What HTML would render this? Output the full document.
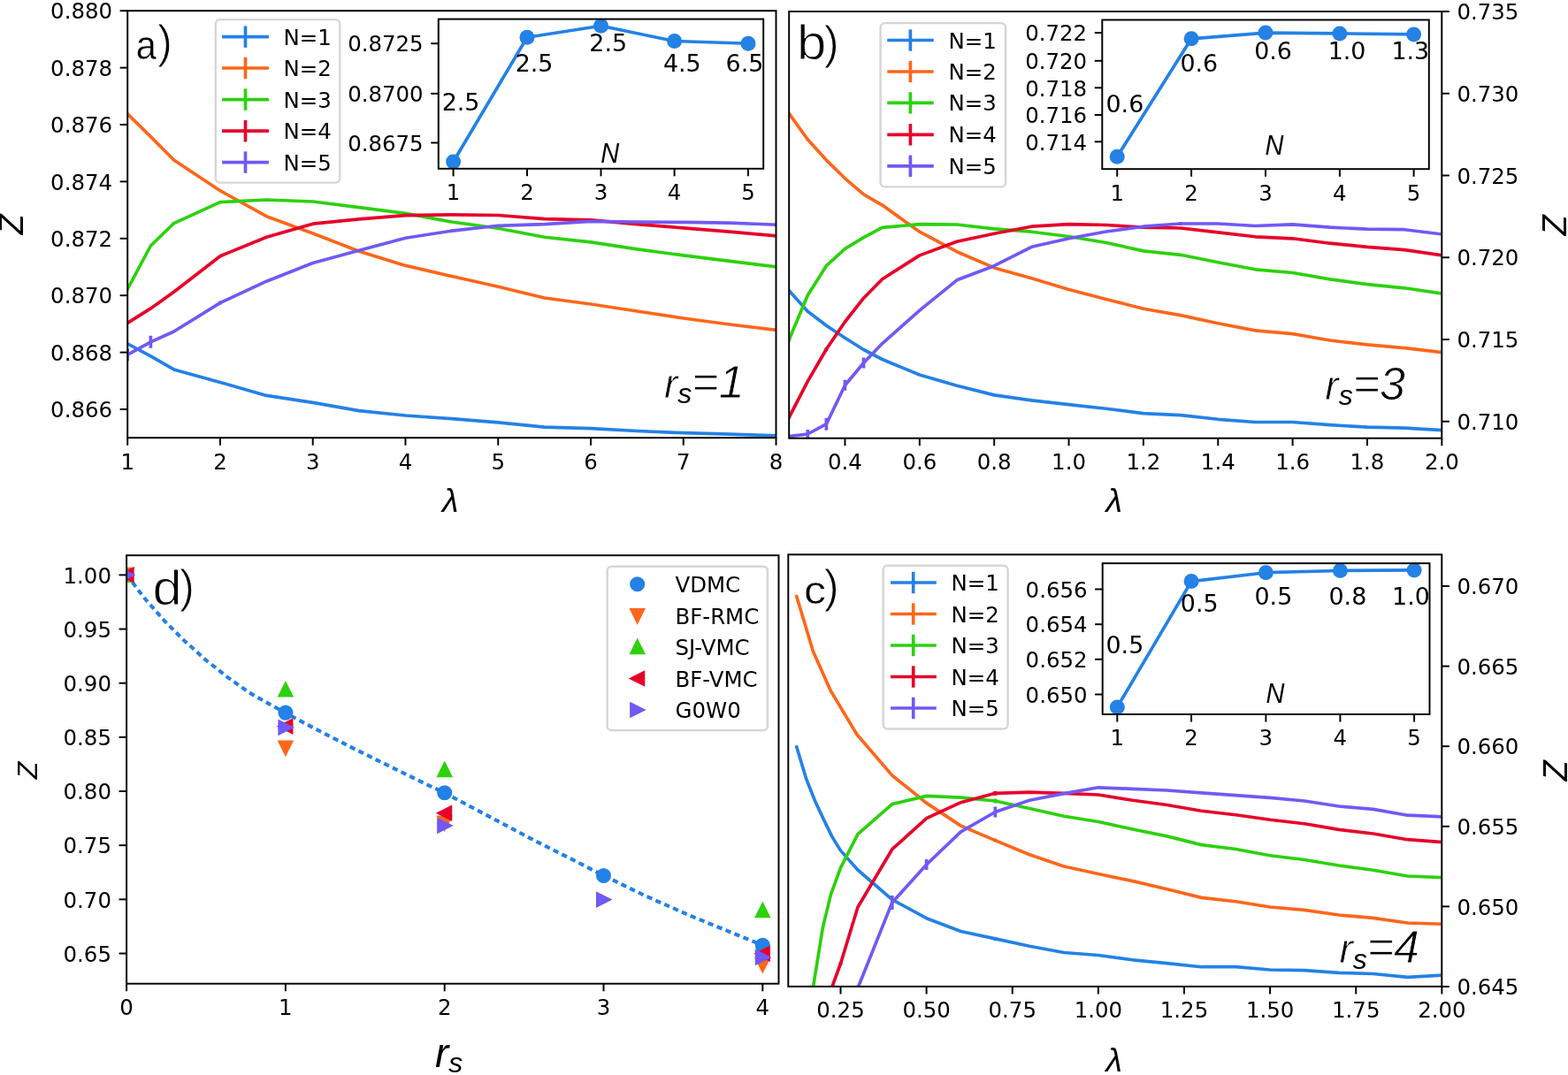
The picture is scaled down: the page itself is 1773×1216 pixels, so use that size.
<!DOCTYPE html>
<html><head><meta charset="utf-8"><title>Figure</title><style>html,body{margin:0;padding:0;background:#fff;overflow:hidden;}svg{display:block;}</style></head><body>
<svg width="1773" height="1216" viewBox="0 0 1773 1216">
<rect width="1773" height="1216" fill="#fff"/>
<clipPath id="ca"><rect x="144.2" y="12.2" width="733.3" height="483"/></clipPath>
<g clip-path="url(#ca)">
<polyline points="144.2,388.9 170.39,402.9 196.58,417.9 248.96,432.4 301.34,447.4 353.72,455.4 406.1,464.6 458.48,470 510.86,473.6 563.24,477.9 615.62,483.2 668,484.7 720.38,487.5 772.76,489.7 825.14,491.2 877.52,492.9" fill="none" stroke="#2481e6" stroke-width="3.67" stroke-linejoin="round" stroke-linecap="square" />
<polyline points="144.2,128.9 170.39,154.6 196.58,181 248.96,215.7 301.34,244.7 353.72,264 406.1,284.3 458.48,300.4 510.86,312.5 563.24,324.3 615.62,337 668,344 720.38,352 772.76,360 825.14,367 877.52,373.3" fill="none" stroke="#ff661a" stroke-width="3.67" stroke-linejoin="round" stroke-linecap="square" />
<polyline points="144.2,327 170.39,278 196.58,252.6 248.96,228.6 301.34,226 353.72,228 406.1,234.6 458.48,241.4 510.86,251 563.24,258.3 615.62,268.2 668,273.9 720.38,281.9 772.76,288.9 825.14,295.4 877.52,301.8" fill="none" stroke="#2dd10d" stroke-width="3.67" stroke-linejoin="round" stroke-linecap="square" />
<polyline points="144.2,365.4 170.39,348.9 196.58,330.2 248.96,289.7 301.34,268.2 353.72,253.2 406.1,247.9 458.48,243.6 510.86,242.9 563.24,243.5 615.62,247.6 668,248.9 720.38,253.6 772.76,257.9 825.14,262.2 877.52,266.9" fill="none" stroke="#e6002a" stroke-width="3.67" stroke-linejoin="round" stroke-linecap="square" />
<polyline points="144.2,401.2 170.39,386.8 196.58,375 248.96,342.6 301.34,318.2 353.72,297.5 406.1,283.2 458.48,269.3 510.86,261.1 563.24,255.3 615.62,253.6 668,250.4 720.38,251 772.76,251.4 825.14,252.1 877.52,254.2" fill="none" stroke="#7059f5" stroke-width="3.67" stroke-linejoin="round" stroke-linecap="square" />
<line x1="144.2" y1="394.2" x2="144.2" y2="408.2" stroke="#7059f5" stroke-width="3.67" stroke-linecap="butt"/>
<line x1="170.39" y1="379.8" x2="170.39" y2="393.8" stroke="#7059f5" stroke-width="3.67" stroke-linecap="butt"/>
<line x1="248.96" y1="340.6" x2="248.96" y2="344.6" stroke="#7059f5" stroke-width="3.67" stroke-linecap="butt"/>
</g>
<rect x="144.2" y="12.2" width="733.3" height="483" fill="none" stroke="#000" stroke-width="1.96"/>
<line x1="144.2" y1="495.2" x2="144.2" y2="503.76" stroke="#000" stroke-width="1.96" stroke-linecap="butt"/>
<text x="144.2" y="530.6" text-anchor="middle" font-size="24.44" font-family="'DejaVu Sans', 'Liberation Sans', sans-serif" >1</text>
<line x1="248.96" y1="495.2" x2="248.96" y2="503.76" stroke="#000" stroke-width="1.96" stroke-linecap="butt"/>
<text x="248.96" y="530.6" text-anchor="middle" font-size="24.44" font-family="'DejaVu Sans', 'Liberation Sans', sans-serif" >2</text>
<line x1="353.72" y1="495.2" x2="353.72" y2="503.76" stroke="#000" stroke-width="1.96" stroke-linecap="butt"/>
<text x="353.72" y="530.6" text-anchor="middle" font-size="24.44" font-family="'DejaVu Sans', 'Liberation Sans', sans-serif" >3</text>
<line x1="458.48" y1="495.2" x2="458.48" y2="503.76" stroke="#000" stroke-width="1.96" stroke-linecap="butt"/>
<text x="458.48" y="530.6" text-anchor="middle" font-size="24.44" font-family="'DejaVu Sans', 'Liberation Sans', sans-serif" >4</text>
<line x1="563.24" y1="495.2" x2="563.24" y2="503.76" stroke="#000" stroke-width="1.96" stroke-linecap="butt"/>
<text x="563.24" y="530.6" text-anchor="middle" font-size="24.44" font-family="'DejaVu Sans', 'Liberation Sans', sans-serif" >5</text>
<line x1="668" y1="495.2" x2="668" y2="503.76" stroke="#000" stroke-width="1.96" stroke-linecap="butt"/>
<text x="668" y="530.6" text-anchor="middle" font-size="24.44" font-family="'DejaVu Sans', 'Liberation Sans', sans-serif" >6</text>
<line x1="772.76" y1="495.2" x2="772.76" y2="503.76" stroke="#000" stroke-width="1.96" stroke-linecap="butt"/>
<text x="772.76" y="530.6" text-anchor="middle" font-size="24.44" font-family="'DejaVu Sans', 'Liberation Sans', sans-serif" >7</text>
<line x1="877.52" y1="495.2" x2="877.52" y2="503.76" stroke="#000" stroke-width="1.96" stroke-linecap="butt"/>
<text x="877.52" y="530.6" text-anchor="middle" font-size="24.44" font-family="'DejaVu Sans', 'Liberation Sans', sans-serif" >8</text>
<line x1="135.64" y1="463" x2="144.2" y2="463" stroke="#000" stroke-width="1.96" stroke-linecap="butt"/>
<text x="127.08" y="472.2" text-anchor="end" font-size="24.44" font-family="'DejaVu Sans', 'Liberation Sans', sans-serif" >0.866</text>
<line x1="135.64" y1="398.6" x2="144.2" y2="398.6" stroke="#000" stroke-width="1.96" stroke-linecap="butt"/>
<text x="127.08" y="407.8" text-anchor="end" font-size="24.44" font-family="'DejaVu Sans', 'Liberation Sans', sans-serif" >0.868</text>
<line x1="135.64" y1="334.2" x2="144.2" y2="334.2" stroke="#000" stroke-width="1.96" stroke-linecap="butt"/>
<text x="127.08" y="343.4" text-anchor="end" font-size="24.44" font-family="'DejaVu Sans', 'Liberation Sans', sans-serif" >0.870</text>
<line x1="135.64" y1="269.8" x2="144.2" y2="269.8" stroke="#000" stroke-width="1.96" stroke-linecap="butt"/>
<text x="127.08" y="279" text-anchor="end" font-size="24.44" font-family="'DejaVu Sans', 'Liberation Sans', sans-serif" >0.872</text>
<line x1="135.64" y1="205.4" x2="144.2" y2="205.4" stroke="#000" stroke-width="1.96" stroke-linecap="butt"/>
<text x="127.08" y="214.6" text-anchor="end" font-size="24.44" font-family="'DejaVu Sans', 'Liberation Sans', sans-serif" >0.874</text>
<line x1="135.64" y1="141" x2="144.2" y2="141" stroke="#000" stroke-width="1.96" stroke-linecap="butt"/>
<text x="127.08" y="150.2" text-anchor="end" font-size="24.44" font-family="'DejaVu Sans', 'Liberation Sans', sans-serif" >0.876</text>
<line x1="135.64" y1="76.6" x2="144.2" y2="76.6" stroke="#000" stroke-width="1.96" stroke-linecap="butt"/>
<text x="127.08" y="85.8" text-anchor="end" font-size="24.44" font-family="'DejaVu Sans', 'Liberation Sans', sans-serif" >0.878</text>
<line x1="135.64" y1="12.2" x2="144.2" y2="12.2" stroke="#000" stroke-width="1.96" stroke-linecap="butt"/>
<text x="127.08" y="21.4" text-anchor="end" font-size="24.44" font-family="'DejaVu Sans', 'Liberation Sans', sans-serif" >0.880</text>
<rect x="243.8" y="22.1" width="140.5" height="184.5" rx="4.9" ry="4.9" fill="#fff" fill-opacity="0.8" stroke="#cccccc" stroke-opacity="0.8" stroke-width="2.44"/>
<line x1="252.9" y1="41.6" x2="302.1" y2="41.6" stroke="#2481e6" stroke-width="3.67" stroke-linecap="square"/>
<line x1="277.5" y1="29.4" x2="277.5" y2="53.8" stroke="#2481e6" stroke-width="3.67" stroke-linecap="butt"/>
<text x="320.4" y="50.6" text-anchor="start" font-size="24.44" font-family="'DejaVu Sans', 'Liberation Sans', sans-serif" >N=1</text>
<line x1="252.9" y1="77" x2="302.1" y2="77" stroke="#ff661a" stroke-width="3.67" stroke-linecap="square"/>
<line x1="277.5" y1="64.8" x2="277.5" y2="89.2" stroke="#ff661a" stroke-width="3.67" stroke-linecap="butt"/>
<text x="320.4" y="86" text-anchor="start" font-size="24.44" font-family="'DejaVu Sans', 'Liberation Sans', sans-serif" >N=2</text>
<line x1="252.9" y1="112.6" x2="302.1" y2="112.6" stroke="#2dd10d" stroke-width="3.67" stroke-linecap="square"/>
<line x1="277.5" y1="100.4" x2="277.5" y2="124.8" stroke="#2dd10d" stroke-width="3.67" stroke-linecap="butt"/>
<text x="320.4" y="121.6" text-anchor="start" font-size="24.44" font-family="'DejaVu Sans', 'Liberation Sans', sans-serif" >N=3</text>
<line x1="252.9" y1="148.2" x2="302.1" y2="148.2" stroke="#e6002a" stroke-width="3.67" stroke-linecap="square"/>
<line x1="277.5" y1="136" x2="277.5" y2="160.4" stroke="#e6002a" stroke-width="3.67" stroke-linecap="butt"/>
<text x="320.4" y="157.2" text-anchor="start" font-size="24.44" font-family="'DejaVu Sans', 'Liberation Sans', sans-serif" >N=4</text>
<line x1="252.9" y1="183.6" x2="302.1" y2="183.6" stroke="#7059f5" stroke-width="3.67" stroke-linecap="square"/>
<line x1="277.5" y1="171.4" x2="277.5" y2="195.8" stroke="#7059f5" stroke-width="3.67" stroke-linecap="butt"/>
<text x="320.4" y="192.6" text-anchor="start" font-size="24.44" font-family="'DejaVu Sans', 'Liberation Sans', sans-serif" >N=5</text>
<rect x="495.8" y="21.6" width="367.4" height="169.2" fill="#fff"/>
<polyline points="512.6,182.9 596,42.3 679.5,29.3 762.6,46.5 846,49.2" fill="none" stroke="#2481e6" stroke-width="3.67" stroke-linejoin="round" stroke-linecap="square" />
<circle cx="512.6" cy="182.9" r="8.5" fill="#2481e6"/>
<circle cx="596" cy="42.3" r="8.5" fill="#2481e6"/>
<circle cx="679.5" cy="29.3" r="8.5" fill="#2481e6"/>
<circle cx="762.6" cy="46.5" r="8.5" fill="#2481e6"/>
<circle cx="846" cy="49.2" r="8.5" fill="#2481e6"/>
<rect x="495.8" y="21.6" width="367.4" height="169.2" fill="none" stroke="#000" stroke-width="1.96"/>
<line x1="512.6" y1="190.8" x2="512.6" y2="199.36" stroke="#000" stroke-width="1.96" stroke-linecap="butt"/>
<text x="512.6" y="226.2" text-anchor="middle" font-size="24.44" font-family="'DejaVu Sans', 'Liberation Sans', sans-serif" >1</text>
<line x1="596" y1="190.8" x2="596" y2="199.36" stroke="#000" stroke-width="1.96" stroke-linecap="butt"/>
<text x="596" y="226.2" text-anchor="middle" font-size="24.44" font-family="'DejaVu Sans', 'Liberation Sans', sans-serif" >2</text>
<line x1="679.5" y1="190.8" x2="679.5" y2="199.36" stroke="#000" stroke-width="1.96" stroke-linecap="butt"/>
<text x="679.5" y="226.2" text-anchor="middle" font-size="24.44" font-family="'DejaVu Sans', 'Liberation Sans', sans-serif" >3</text>
<line x1="762.6" y1="190.8" x2="762.6" y2="199.36" stroke="#000" stroke-width="1.96" stroke-linecap="butt"/>
<text x="762.6" y="226.2" text-anchor="middle" font-size="24.44" font-family="'DejaVu Sans', 'Liberation Sans', sans-serif" >4</text>
<line x1="846" y1="190.8" x2="846" y2="199.36" stroke="#000" stroke-width="1.96" stroke-linecap="butt"/>
<text x="846" y="226.2" text-anchor="middle" font-size="24.44" font-family="'DejaVu Sans', 'Liberation Sans', sans-serif" >5</text>
<line x1="487.24" y1="49.2" x2="495.8" y2="49.2" stroke="#000" stroke-width="1.96" stroke-linecap="butt"/>
<text x="478.68" y="58.4" text-anchor="end" font-size="24.44" font-family="'DejaVu Sans', 'Liberation Sans', sans-serif" >0.8725</text>
<line x1="487.24" y1="105.9" x2="495.8" y2="105.9" stroke="#000" stroke-width="1.96" stroke-linecap="butt"/>
<text x="478.68" y="115.1" text-anchor="end" font-size="24.44" font-family="'DejaVu Sans', 'Liberation Sans', sans-serif" >0.8700</text>
<line x1="487.24" y1="161.5" x2="495.8" y2="161.5" stroke="#000" stroke-width="1.96" stroke-linecap="butt"/>
<text x="478.68" y="170.7" text-anchor="end" font-size="24.44" font-family="'DejaVu Sans', 'Liberation Sans', sans-serif" >0.8675</text>
<text x="499.63" y="125.1" text-anchor="start" font-size="26.88" font-family="'DejaVu Sans', 'Liberation Sans', sans-serif" >2.5</text>
<text x="582.63" y="80.6" text-anchor="start" font-size="26.88" font-family="'DejaVu Sans', 'Liberation Sans', sans-serif" >2.5</text>
<text x="666.33" y="58" text-anchor="start" font-size="26.88" font-family="'DejaVu Sans', 'Liberation Sans', sans-serif" >2.5</text>
<text x="749.89" y="80.6" text-anchor="start" font-size="26.88" font-family="'DejaVu Sans', 'Liberation Sans', sans-serif" >4.5</text>
<text x="820.62" y="80.6" text-anchor="start" font-size="26.88" font-family="'DejaVu Sans', 'Liberation Sans', sans-serif" >6.5</text>
<text x="679.12" y="183.8" font-size="32" font-family="'Liberation Sans', 'DejaVu Sans', sans-serif" font-style="italic" transform="matrix(0.9078,0,0,1,62.68,0)">N</text>
<text x="153.4" y="67.3" font-size="47" font-family="'Liberation Sans', 'DejaVu Sans', sans-serif" stroke="#fff" stroke-width="0.4" transform="matrix(0.8823,0,0,1,18.3,0)">a</text>
<text x="178.08" y="65.24" font-size="51" font-family="'Liberation Sans', 'DejaVu Sans', sans-serif" stroke="#fff" stroke-width="1.0">)</text>
<text x="751" y="449.6" font-family="'Liberation Sans', 'DejaVu Sans', sans-serif" font-style="italic" font-size="46" stroke="#fff" stroke-width="0.8">r<tspan font-size="32" dy="6.5" stroke="none">s</tspan><tspan font-size="52" dy="-6.5">=1</tspan></text>
<text x="509.2" y="578.9" text-anchor="middle" font-size="37.5" font-family="'Liberation Sans', 'DejaVu Sans', sans-serif" font-style="italic">λ</text>
<text transform="translate(25.9,254) rotate(-90)" text-anchor="middle" font-family="'Liberation Sans', 'DejaVu Sans', sans-serif" font-style="italic" font-size="38">Z</text>
<clipPath id="cb"><rect x="892.2" y="13" width="738.1" height="482.7"/></clipPath>
<g clip-path="url(#cb)">
<polyline points="892.2,328.6 913.29,352.2 934.38,368.2 955.47,382.2 976.56,395.5 997.65,406.5 1039.83,424 1082.01,436.2 1124.19,446.9 1166.37,452.9 1208.55,457.6 1250.73,462.2 1292.91,467.6 1335.09,469.6 1377.27,474.3 1419.45,477.5 1461.63,477.5 1503.81,480.7 1545.99,483.2 1588.17,484.2 1630.35,486.6" fill="none" stroke="#2481e6" stroke-width="3.67" stroke-linejoin="round" stroke-linecap="square" />
<polyline points="892.2,128.3 913.29,157.8 934.38,181.1 955.47,201.8 976.56,219.8 997.65,232.1 1039.83,262.2 1082.01,284.7 1124.19,302.9 1166.37,314.7 1208.55,327.5 1250.73,338.5 1292.91,349.2 1335.09,356.6 1377.27,365.8 1419.45,373.9 1461.63,377.6 1503.81,385 1545.99,389.9 1588.17,393.6 1630.35,398.6" fill="none" stroke="#ff661a" stroke-width="3.67" stroke-linejoin="round" stroke-linecap="square" />
<polyline points="892.2,384.3 913.29,334 934.38,300.7 955.47,281.4 976.56,268.6 997.65,257.4 1039.83,253.6 1082.01,254 1124.19,258.9 1166.37,262.2 1208.55,267.5 1250.73,274.5 1292.91,283.9 1335.09,288.3 1377.27,296.7 1419.45,304.8 1461.63,308.5 1503.81,315.9 1545.99,321.6 1588.17,325.8 1630.35,332" fill="none" stroke="#2dd10d" stroke-width="3.67" stroke-linejoin="round" stroke-linecap="square" />
<polyline points="892.2,472.2 913.29,431.4 934.38,395 955.47,364 976.56,337.2 997.65,315.7 1039.83,288.9 1082.01,273.3 1124.19,264.3 1166.37,256.2 1208.55,253.6 1250.73,254.5 1292.91,257.2 1335.09,258 1377.27,262.9 1419.45,267.8 1461.63,269.8 1503.81,275.2 1545.99,279.4 1588.17,282.6 1630.35,288.8" fill="none" stroke="#e6002a" stroke-width="3.67" stroke-linejoin="round" stroke-linecap="square" />
<polyline points="892.2,493.6 913.29,491 934.38,479.7 955.47,435.7 976.56,410.5 997.65,388.6 1039.83,351.1 1082.01,316.8 1124.19,300.7 1166.37,279.3 1208.55,269.7 1250.73,262 1292.91,256.2 1335.09,253 1377.27,253 1419.45,255.5 1461.63,253.8 1503.81,257.2 1545.99,259.2 1588.17,259.7 1630.35,264.9" fill="none" stroke="#7059f5" stroke-width="3.67" stroke-linejoin="round" stroke-linecap="square" />
<line x1="913.29" y1="486" x2="913.29" y2="496" stroke="#7059f5" stroke-width="3.67" stroke-linecap="butt"/>
<line x1="934.38" y1="472.7" x2="934.38" y2="486.7" stroke="#7059f5" stroke-width="3.67" stroke-linecap="butt"/>
<line x1="955.47" y1="429.7" x2="955.47" y2="441.7" stroke="#7059f5" stroke-width="3.67" stroke-linecap="butt"/>
<line x1="976.56" y1="404.5" x2="976.56" y2="416.5" stroke="#7059f5" stroke-width="3.67" stroke-linecap="butt"/>
<line x1="1335.09" y1="251" x2="1335.09" y2="255" stroke="#7059f5" stroke-width="3.67" stroke-linecap="butt"/>
<line x1="934.38" y1="393" x2="934.38" y2="397" stroke="#e6002a" stroke-width="3.67" stroke-linecap="butt"/>
</g>
<rect x="892.2" y="13" width="738.1" height="482.7" fill="none" stroke="#000" stroke-width="1.96"/>
<line x1="955.47" y1="495.7" x2="955.47" y2="504.26" stroke="#000" stroke-width="1.96" stroke-linecap="butt"/>
<text x="955.47" y="531.1" text-anchor="middle" font-size="24.44" font-family="'DejaVu Sans', 'Liberation Sans', sans-serif" >0.4</text>
<line x1="1039.83" y1="495.7" x2="1039.83" y2="504.26" stroke="#000" stroke-width="1.96" stroke-linecap="butt"/>
<text x="1039.83" y="531.1" text-anchor="middle" font-size="24.44" font-family="'DejaVu Sans', 'Liberation Sans', sans-serif" >0.6</text>
<line x1="1124.19" y1="495.7" x2="1124.19" y2="504.26" stroke="#000" stroke-width="1.96" stroke-linecap="butt"/>
<text x="1124.19" y="531.1" text-anchor="middle" font-size="24.44" font-family="'DejaVu Sans', 'Liberation Sans', sans-serif" >0.8</text>
<line x1="1208.55" y1="495.7" x2="1208.55" y2="504.26" stroke="#000" stroke-width="1.96" stroke-linecap="butt"/>
<text x="1208.55" y="531.1" text-anchor="middle" font-size="24.44" font-family="'DejaVu Sans', 'Liberation Sans', sans-serif" >1.0</text>
<line x1="1292.91" y1="495.7" x2="1292.91" y2="504.26" stroke="#000" stroke-width="1.96" stroke-linecap="butt"/>
<text x="1292.91" y="531.1" text-anchor="middle" font-size="24.44" font-family="'DejaVu Sans', 'Liberation Sans', sans-serif" >1.2</text>
<line x1="1377.27" y1="495.7" x2="1377.27" y2="504.26" stroke="#000" stroke-width="1.96" stroke-linecap="butt"/>
<text x="1377.27" y="531.1" text-anchor="middle" font-size="24.44" font-family="'DejaVu Sans', 'Liberation Sans', sans-serif" >1.4</text>
<line x1="1461.63" y1="495.7" x2="1461.63" y2="504.26" stroke="#000" stroke-width="1.96" stroke-linecap="butt"/>
<text x="1461.63" y="531.1" text-anchor="middle" font-size="24.44" font-family="'DejaVu Sans', 'Liberation Sans', sans-serif" >1.6</text>
<line x1="1545.99" y1="495.7" x2="1545.99" y2="504.26" stroke="#000" stroke-width="1.96" stroke-linecap="butt"/>
<text x="1545.99" y="531.1" text-anchor="middle" font-size="24.44" font-family="'DejaVu Sans', 'Liberation Sans', sans-serif" >1.8</text>
<line x1="1630.35" y1="495.7" x2="1630.35" y2="504.26" stroke="#000" stroke-width="1.96" stroke-linecap="butt"/>
<text x="1630.35" y="531.1" text-anchor="middle" font-size="24.44" font-family="'DejaVu Sans', 'Liberation Sans', sans-serif" >2.0</text>
<line x1="1630.3" y1="476.75" x2="1638.86" y2="476.75" stroke="#000" stroke-width="1.96" stroke-linecap="butt"/>
<text x="1647.42" y="485.95" text-anchor="start" font-size="24.44" font-family="'DejaVu Sans', 'Liberation Sans', sans-serif" >0.710</text>
<line x1="1630.3" y1="384" x2="1638.86" y2="384" stroke="#000" stroke-width="1.96" stroke-linecap="butt"/>
<text x="1647.42" y="393.2" text-anchor="start" font-size="24.44" font-family="'DejaVu Sans', 'Liberation Sans', sans-serif" >0.715</text>
<line x1="1630.3" y1="291.25" x2="1638.86" y2="291.25" stroke="#000" stroke-width="1.96" stroke-linecap="butt"/>
<text x="1647.42" y="300.45" text-anchor="start" font-size="24.44" font-family="'DejaVu Sans', 'Liberation Sans', sans-serif" >0.720</text>
<line x1="1630.3" y1="198.5" x2="1638.86" y2="198.5" stroke="#000" stroke-width="1.96" stroke-linecap="butt"/>
<text x="1647.42" y="207.7" text-anchor="start" font-size="24.44" font-family="'DejaVu Sans', 'Liberation Sans', sans-serif" >0.725</text>
<line x1="1630.3" y1="105.75" x2="1638.86" y2="105.75" stroke="#000" stroke-width="1.96" stroke-linecap="butt"/>
<text x="1647.42" y="114.95" text-anchor="start" font-size="24.44" font-family="'DejaVu Sans', 'Liberation Sans', sans-serif" >0.730</text>
<line x1="1630.3" y1="13" x2="1638.86" y2="13" stroke="#000" stroke-width="1.96" stroke-linecap="butt"/>
<text x="1647.42" y="22.2" text-anchor="start" font-size="24.44" font-family="'DejaVu Sans', 'Liberation Sans', sans-serif" >0.735</text>
<rect x="995.6" y="26.1" width="141.5" height="185.3" rx="4.9" ry="4.9" fill="#fff" fill-opacity="0.8" stroke="#cccccc" stroke-opacity="0.8" stroke-width="2.44"/>
<line x1="1005.1" y1="45.5" x2="1053.9" y2="45.5" stroke="#2481e6" stroke-width="3.67" stroke-linecap="square"/>
<line x1="1029.4" y1="33.3" x2="1029.4" y2="57.7" stroke="#2481e6" stroke-width="3.67" stroke-linecap="butt"/>
<text x="1072.5" y="54.5" text-anchor="start" font-size="24.44" font-family="'DejaVu Sans', 'Liberation Sans', sans-serif" >N=1</text>
<line x1="1005.1" y1="81" x2="1053.9" y2="81" stroke="#ff661a" stroke-width="3.67" stroke-linecap="square"/>
<line x1="1029.4" y1="68.8" x2="1029.4" y2="93.2" stroke="#ff661a" stroke-width="3.67" stroke-linecap="butt"/>
<text x="1072.5" y="90" text-anchor="start" font-size="24.44" font-family="'DejaVu Sans', 'Liberation Sans', sans-serif" >N=2</text>
<line x1="1005.1" y1="116.4" x2="1053.9" y2="116.4" stroke="#2dd10d" stroke-width="3.67" stroke-linecap="square"/>
<line x1="1029.4" y1="104.2" x2="1029.4" y2="128.6" stroke="#2dd10d" stroke-width="3.67" stroke-linecap="butt"/>
<text x="1072.5" y="125.4" text-anchor="start" font-size="24.44" font-family="'DejaVu Sans', 'Liberation Sans', sans-serif" >N=3</text>
<line x1="1005.1" y1="152.3" x2="1053.9" y2="152.3" stroke="#e6002a" stroke-width="3.67" stroke-linecap="square"/>
<line x1="1029.4" y1="140.1" x2="1029.4" y2="164.5" stroke="#e6002a" stroke-width="3.67" stroke-linecap="butt"/>
<text x="1072.5" y="161.3" text-anchor="start" font-size="24.44" font-family="'DejaVu Sans', 'Liberation Sans', sans-serif" >N=4</text>
<line x1="1005.1" y1="187.8" x2="1053.9" y2="187.8" stroke="#7059f5" stroke-width="3.67" stroke-linecap="square"/>
<line x1="1029.4" y1="175.6" x2="1029.4" y2="200" stroke="#7059f5" stroke-width="3.67" stroke-linecap="butt"/>
<text x="1072.5" y="196.8" text-anchor="start" font-size="24.44" font-family="'DejaVu Sans', 'Liberation Sans', sans-serif" >N=5</text>
<rect x="1246.3" y="22.5" width="369.5" height="168.7" fill="#fff"/>
<polyline points="1263.2,177.3 1347.1,43.8 1431,37.1 1514.9,37.9 1598.6,38.9" fill="none" stroke="#2481e6" stroke-width="3.67" stroke-linejoin="round" stroke-linecap="square" />
<circle cx="1263.2" cy="177.3" r="8.5" fill="#2481e6"/>
<circle cx="1347.1" cy="43.8" r="8.5" fill="#2481e6"/>
<circle cx="1431" cy="37.1" r="8.5" fill="#2481e6"/>
<circle cx="1514.9" cy="37.9" r="8.5" fill="#2481e6"/>
<circle cx="1598.6" cy="38.9" r="8.5" fill="#2481e6"/>
<rect x="1246.3" y="22.5" width="369.5" height="168.7" fill="none" stroke="#000" stroke-width="1.96"/>
<line x1="1263.2" y1="191.2" x2="1263.2" y2="199.76" stroke="#000" stroke-width="1.96" stroke-linecap="butt"/>
<text x="1263.2" y="226.6" text-anchor="middle" font-size="24.44" font-family="'DejaVu Sans', 'Liberation Sans', sans-serif" >1</text>
<line x1="1347.1" y1="191.2" x2="1347.1" y2="199.76" stroke="#000" stroke-width="1.96" stroke-linecap="butt"/>
<text x="1347.1" y="226.6" text-anchor="middle" font-size="24.44" font-family="'DejaVu Sans', 'Liberation Sans', sans-serif" >2</text>
<line x1="1431" y1="191.2" x2="1431" y2="199.76" stroke="#000" stroke-width="1.96" stroke-linecap="butt"/>
<text x="1431" y="226.6" text-anchor="middle" font-size="24.44" font-family="'DejaVu Sans', 'Liberation Sans', sans-serif" >3</text>
<line x1="1514.9" y1="191.2" x2="1514.9" y2="199.76" stroke="#000" stroke-width="1.96" stroke-linecap="butt"/>
<text x="1514.9" y="226.6" text-anchor="middle" font-size="24.44" font-family="'DejaVu Sans', 'Liberation Sans', sans-serif" >4</text>
<line x1="1598.6" y1="191.2" x2="1598.6" y2="199.76" stroke="#000" stroke-width="1.96" stroke-linecap="butt"/>
<text x="1598.6" y="226.6" text-anchor="middle" font-size="24.44" font-family="'DejaVu Sans', 'Liberation Sans', sans-serif" >5</text>
<line x1="1237.74" y1="37.1" x2="1246.3" y2="37.1" stroke="#000" stroke-width="1.96" stroke-linecap="butt"/>
<text x="1229.18" y="46.3" text-anchor="end" font-size="24.44" font-family="'DejaVu Sans', 'Liberation Sans', sans-serif" >0.722</text>
<line x1="1237.74" y1="68.8" x2="1246.3" y2="68.8" stroke="#000" stroke-width="1.96" stroke-linecap="butt"/>
<text x="1229.18" y="78" text-anchor="end" font-size="24.44" font-family="'DejaVu Sans', 'Liberation Sans', sans-serif" >0.720</text>
<line x1="1237.74" y1="99.3" x2="1246.3" y2="99.3" stroke="#000" stroke-width="1.96" stroke-linecap="butt"/>
<text x="1229.18" y="108.5" text-anchor="end" font-size="24.44" font-family="'DejaVu Sans', 'Liberation Sans', sans-serif" >0.718</text>
<line x1="1237.74" y1="130" x2="1246.3" y2="130" stroke="#000" stroke-width="1.96" stroke-linecap="butt"/>
<text x="1229.18" y="139.2" text-anchor="end" font-size="24.44" font-family="'DejaVu Sans', 'Liberation Sans', sans-serif" >0.716</text>
<line x1="1237.74" y1="160.3" x2="1246.3" y2="160.3" stroke="#000" stroke-width="1.96" stroke-linecap="butt"/>
<text x="1229.18" y="169.5" text-anchor="end" font-size="24.44" font-family="'DejaVu Sans', 'Liberation Sans', sans-serif" >0.714</text>
<text x="1250.53" y="127.4" text-anchor="start" font-size="26.88" font-family="'DejaVu Sans', 'Liberation Sans', sans-serif" >0.6</text>
<text x="1334.43" y="81.3" text-anchor="start" font-size="26.88" font-family="'DejaVu Sans', 'Liberation Sans', sans-serif" >0.6</text>
<text x="1418.13" y="66.5" text-anchor="start" font-size="26.88" font-family="'DejaVu Sans', 'Liberation Sans', sans-serif" >0.6</text>
<text x="1501.65" y="66.5" text-anchor="start" font-size="26.88" font-family="'DejaVu Sans', 'Liberation Sans', sans-serif" >1.0</text>
<text x="1573.45" y="66.5" text-anchor="start" font-size="26.88" font-family="'DejaVu Sans', 'Liberation Sans', sans-serif" >1.3</text>
<text x="1430.52" y="175.1" font-size="32" font-family="'Liberation Sans', 'DejaVu Sans', sans-serif" font-style="italic" transform="matrix(0.9078,0,0,1,131.94,0)">N</text>
<text x="901.26" y="67.1" font-size="55" font-family="'Liberation Sans', 'DejaVu Sans', sans-serif" stroke="#fff" stroke-width="1.0" transform="matrix(1.0916,0,0,1,-82.9,0)">b</text>
<text x="931.68" y="65.84" font-size="51" font-family="'Liberation Sans', 'DejaVu Sans', sans-serif" stroke="#fff" stroke-width="1.0">)</text>
<text x="1498.3" y="451.6" font-family="'Liberation Sans', 'DejaVu Sans', sans-serif" font-style="italic" font-size="46" stroke="#fff" stroke-width="0.8">r<tspan font-size="32" dy="6.5" stroke="none">s</tspan><tspan font-size="52" dy="-6.5">=3</tspan></text>
<text x="1259.8" y="578.9" text-anchor="middle" font-size="37.5" font-family="'Liberation Sans', 'DejaVu Sans', sans-serif" font-style="italic">λ</text>
<text transform="translate(1771.2,254.8) rotate(-90)" text-anchor="middle" font-family="'Liberation Sans', 'DejaVu Sans', sans-serif" font-style="italic" font-size="38">Z</text>
<clipPath id="cd"><rect x="143.1" y="628.2" width="737.4" height="484.5"/></clipPath>
<g clip-path="url(#cd)">
<polyline points="143.1,650.4 148.9,657.8 163.7,677 185.9,702.2 208.1,724.4 231.8,745.8 257,765.8 282.1,783.6 302.8,795.4 323,806.5 340.3,815.9 368.5,830.6 397.3,845.3 425.5,859.4 454.2,873.5 483,887.6 502.8,896.9 567.7,931.3 606,951.6 645.5,971.4 682.6,990.5 730.8,1013.8 779.3,1035.3 828.9,1055.6 862.2,1069.1" fill="none" stroke="#2481e6" stroke-width="4.1" stroke-dasharray="6.3,4.45" stroke-linecap="butt" stroke-linejoin="round"/>
<circle cx="143.1" cy="650.4" r="7.33" fill="#2481e6" stroke="#2481e6" stroke-width="2.44"/>
<circle cx="322.9" cy="806.11" r="7.33" fill="#2481e6" stroke="#2481e6" stroke-width="2.44"/>
<circle cx="502.7" cy="896.75" r="7.33" fill="#2481e6" stroke="#2481e6" stroke-width="2.44"/>
<circle cx="682.5" cy="990.45" r="7.33" fill="#2481e6" stroke="#2481e6" stroke-width="2.44"/>
<circle cx="862.3" cy="1069.35" r="7.33" fill="#2481e6" stroke="#2481e6" stroke-width="2.44"/>
<polygon points="143.1,657.73 135.77,643.07 150.43,643.07" fill="#ff661a" stroke="#ff661a" stroke-width="2.44" stroke-linejoin="miter"/>
<polygon points="322.9,853.44 315.57,838.78 330.23,838.78" fill="#ff661a" stroke="#ff661a" stroke-width="2.44" stroke-linejoin="miter"/>
<polygon points="502.7,938.33 495.37,923.67 510.03,923.67" fill="#ff661a" stroke="#ff661a" stroke-width="2.44" stroke-linejoin="miter"/>
<polygon points="862.3,1098.82 854.97,1084.16 869.63,1084.16" fill="#ff661a" stroke="#ff661a" stroke-width="2.44" stroke-linejoin="miter"/>
<polygon points="143.1,643.07 135.77,657.73 150.43,657.73" fill="#2dd10d" stroke="#2dd10d" stroke-width="2.44" stroke-linejoin="miter"/>
<polygon points="322.9,772.73 315.57,787.39 330.23,787.39" fill="#2dd10d" stroke="#2dd10d" stroke-width="2.44" stroke-linejoin="miter"/>
<polygon points="502.7,863.25 495.37,877.91 510.03,877.91" fill="#2dd10d" stroke="#2dd10d" stroke-width="2.44" stroke-linejoin="miter"/>
<polygon points="862.3,1022.26 854.97,1036.92 869.63,1036.92" fill="#2dd10d" stroke="#2dd10d" stroke-width="2.44" stroke-linejoin="miter"/>
<polygon points="135.77,650.4 150.43,643.07 150.43,657.73" fill="#e6002a" stroke="#e6002a" stroke-width="2.44" stroke-linejoin="miter"/>
<polygon points="315.57,821.65 330.23,814.32 330.23,828.98" fill="#e6002a" stroke="#e6002a" stroke-width="2.44" stroke-linejoin="miter"/>
<polygon points="495.37,919.75 510.03,912.42 510.03,927.08" fill="#e6002a" stroke="#e6002a" stroke-width="2.44" stroke-linejoin="miter"/>
<polygon points="854.97,1078.76 869.63,1071.43 869.63,1086.09" fill="#e6002a" stroke="#e6002a" stroke-width="2.44" stroke-linejoin="miter"/>
<polygon points="150.43,650.4 135.77,643.07 135.77,657.73" fill="#7059f5" stroke="#7059f5" stroke-width="2.44" stroke-linejoin="miter"/>
<polygon points="330.23,822.87 315.57,815.54 315.57,830.2" fill="#7059f5" stroke="#7059f5" stroke-width="2.44" stroke-linejoin="miter"/>
<polygon points="510.03,933.94 495.37,926.61 495.37,941.27" fill="#7059f5" stroke="#7059f5" stroke-width="2.44" stroke-linejoin="miter"/>
<polygon points="689.83,1017.6 675.17,1010.27 675.17,1024.93" fill="#7059f5" stroke="#7059f5" stroke-width="2.44" stroke-linejoin="miter"/>
<polygon points="869.63,1082.92 854.97,1075.59 854.97,1090.25" fill="#7059f5" stroke="#7059f5" stroke-width="2.44" stroke-linejoin="miter"/>
</g>
<rect x="143.1" y="628.2" width="737.4" height="484.5" fill="none" stroke="#000" stroke-width="1.96"/>
<line x1="143.1" y1="1112.7" x2="143.1" y2="1121.26" stroke="#000" stroke-width="1.96" stroke-linecap="butt"/>
<text x="143.1" y="1148.1" text-anchor="middle" font-size="24.44" font-family="'DejaVu Sans', 'Liberation Sans', sans-serif" >0</text>
<line x1="322.9" y1="1112.7" x2="322.9" y2="1121.26" stroke="#000" stroke-width="1.96" stroke-linecap="butt"/>
<text x="322.9" y="1148.1" text-anchor="middle" font-size="24.44" font-family="'DejaVu Sans', 'Liberation Sans', sans-serif" >1</text>
<line x1="502.7" y1="1112.7" x2="502.7" y2="1121.26" stroke="#000" stroke-width="1.96" stroke-linecap="butt"/>
<text x="502.7" y="1148.1" text-anchor="middle" font-size="24.44" font-family="'DejaVu Sans', 'Liberation Sans', sans-serif" >2</text>
<line x1="682.5" y1="1112.7" x2="682.5" y2="1121.26" stroke="#000" stroke-width="1.96" stroke-linecap="butt"/>
<text x="682.5" y="1148.1" text-anchor="middle" font-size="24.44" font-family="'DejaVu Sans', 'Liberation Sans', sans-serif" >3</text>
<line x1="862.3" y1="1112.7" x2="862.3" y2="1121.26" stroke="#000" stroke-width="1.96" stroke-linecap="butt"/>
<text x="862.3" y="1148.1" text-anchor="middle" font-size="24.44" font-family="'DejaVu Sans', 'Liberation Sans', sans-serif" >4</text>
<line x1="134.54" y1="1078.52" x2="143.1" y2="1078.52" stroke="#000" stroke-width="1.96" stroke-linecap="butt"/>
<text x="125.98" y="1087.72" text-anchor="end" font-size="24.44" font-family="'DejaVu Sans', 'Liberation Sans', sans-serif" >0.65</text>
<line x1="134.54" y1="1017.36" x2="143.1" y2="1017.36" stroke="#000" stroke-width="1.96" stroke-linecap="butt"/>
<text x="125.98" y="1026.56" text-anchor="end" font-size="24.44" font-family="'DejaVu Sans', 'Liberation Sans', sans-serif" >0.70</text>
<line x1="134.54" y1="956.2" x2="143.1" y2="956.2" stroke="#000" stroke-width="1.96" stroke-linecap="butt"/>
<text x="125.98" y="965.4" text-anchor="end" font-size="24.44" font-family="'DejaVu Sans', 'Liberation Sans', sans-serif" >0.75</text>
<line x1="134.54" y1="895.04" x2="143.1" y2="895.04" stroke="#000" stroke-width="1.96" stroke-linecap="butt"/>
<text x="125.98" y="904.24" text-anchor="end" font-size="24.44" font-family="'DejaVu Sans', 'Liberation Sans', sans-serif" >0.80</text>
<line x1="134.54" y1="833.88" x2="143.1" y2="833.88" stroke="#000" stroke-width="1.96" stroke-linecap="butt"/>
<text x="125.98" y="843.08" text-anchor="end" font-size="24.44" font-family="'DejaVu Sans', 'Liberation Sans', sans-serif" >0.85</text>
<line x1="134.54" y1="772.72" x2="143.1" y2="772.72" stroke="#000" stroke-width="1.96" stroke-linecap="butt"/>
<text x="125.98" y="781.92" text-anchor="end" font-size="24.44" font-family="'DejaVu Sans', 'Liberation Sans', sans-serif" >0.90</text>
<line x1="134.54" y1="711.56" x2="143.1" y2="711.56" stroke="#000" stroke-width="1.96" stroke-linecap="butt"/>
<text x="125.98" y="720.76" text-anchor="end" font-size="24.44" font-family="'DejaVu Sans', 'Liberation Sans', sans-serif" >0.95</text>
<line x1="134.54" y1="650.4" x2="143.1" y2="650.4" stroke="#000" stroke-width="1.96" stroke-linecap="butt"/>
<text x="125.98" y="659.6" text-anchor="end" font-size="24.44" font-family="'DejaVu Sans', 'Liberation Sans', sans-serif" >1.00</text>
<rect x="686.7" y="640.8" width="181.2" height="185.3" rx="4.9" ry="4.9" fill="#fff" fill-opacity="0.8" stroke="#cccccc" stroke-opacity="0.8" stroke-width="2.44"/>
<circle cx="720.7" cy="660.7" r="7.33" fill="#2481e6" stroke="#2481e6" stroke-width="2.44"/>
<text x="763.5" y="669.7" text-anchor="start" font-size="24.44" font-family="'DejaVu Sans', 'Liberation Sans', sans-serif" >VDMC</text>
<polygon points="720.7,703.93 713.37,689.27 728.03,689.27" fill="#ff661a" stroke="#ff661a" stroke-width="2.44" stroke-linejoin="miter"/>
<text x="763.5" y="705.6" text-anchor="start" font-size="24.44" font-family="'DejaVu Sans', 'Liberation Sans', sans-serif" >BF-RMC</text>
<polygon points="720.7,724.27 713.37,738.93 728.03,738.93" fill="#2dd10d" stroke="#2dd10d" stroke-width="2.44" stroke-linejoin="miter"/>
<text x="763.5" y="740.6" text-anchor="start" font-size="24.44" font-family="'DejaVu Sans', 'Liberation Sans', sans-serif" >SJ-VMC</text>
<polygon points="713.37,767.5 728.03,760.17 728.03,774.83" fill="#e6002a" stroke="#e6002a" stroke-width="2.44" stroke-linejoin="miter"/>
<text x="763.5" y="776.5" text-anchor="start" font-size="24.44" font-family="'DejaVu Sans', 'Liberation Sans', sans-serif" >BF-VMC</text>
<polygon points="728.03,803 713.37,795.67 713.37,810.33" fill="#7059f5" stroke="#7059f5" stroke-width="2.44" stroke-linejoin="miter"/>
<text x="763.5" y="812" text-anchor="start" font-size="24.44" font-family="'DejaVu Sans', 'Liberation Sans', sans-serif" >G0W0</text>
<text x="172.75" y="683.8" font-size="56" font-family="'Liberation Sans', 'DejaVu Sans', sans-serif" stroke="#fff" stroke-width="1.0" transform="matrix(1.0642,0,0,1,-11.24,0)">d</text>
<text x="202.88" y="681.24" font-size="51" font-family="'Liberation Sans', 'DejaVu Sans', sans-serif" stroke="#fff" stroke-width="1.0">)</text>
<text x="492" y="1206.7" font-family="'Liberation Sans', 'DejaVu Sans', sans-serif" font-style="italic" font-size="46">r<tspan font-size="32" dy="6.5">s</tspan></text>
<text transform="translate(42.1,871.6) rotate(-90)" text-anchor="middle" font-family="'Liberation Sans', 'DejaVu Sans', sans-serif" font-style="italic" font-size="32">Z</text>
<clipPath id="cc"><rect x="891.3" y="627.3" width="739" height="488.6"/></clipPath>
<g clip-path="url(#cc)">
<polyline points="900.8,845.1 911.65,881 921.4,905.7 931.1,926.4 940.8,946.4 950.5,962.1 969.9,984 1008.77,1017.6 1047.62,1038.7 1086.47,1053.5 1125.33,1061.9 1164.17,1070.3 1203.03,1077.5 1241.88,1080.5 1280.72,1085.8 1319.58,1089.6 1358.42,1093.7 1397.28,1093.7 1436.12,1097 1474.97,1097.7 1513.82,1100.4 1552.68,1101.5 1591.53,1105.4 1630.38,1103.1" fill="none" stroke="#2481e6" stroke-width="3.67" stroke-linejoin="round" stroke-linecap="square" />
<polyline points="900.8,674.8 919.5,737 939.3,781.4 968.9,830.7 1008.77,877.1 1047.62,908.4 1086.47,934.1 1125.33,950.6 1164.17,966.7 1203.03,980 1241.88,988.5 1280.72,996.6 1319.58,1005.7 1358.42,1015.4 1397.28,1019.7 1436.12,1026 1474.97,1029.4 1513.82,1035 1552.68,1038.4 1591.53,1044 1630.38,1045.2" fill="none" stroke="#ff661a" stroke-width="3.67" stroke-linejoin="round" stroke-linecap="square" />
<polyline points="916.5,1135 930.3,1049.6 939.5,1011.6 950.5,981.7 969.92,943.7 1008.77,909.6 1047.62,900.4 1086.47,902.1 1125.33,906 1164.17,914.5 1203.03,923.3 1241.88,929.5 1280.72,938 1319.58,945.9 1358.42,955.6 1397.28,960.5 1436.12,967.8 1474.97,972.5 1513.82,979 1552.68,984.2 1591.53,991 1630.38,992.6" fill="none" stroke="#2dd10d" stroke-width="3.67" stroke-linejoin="round" stroke-linecap="square" />
<polyline points="934,1135 950.5,1090 969.92,1026.2 1008.77,960.7 1047.62,925.6 1086.47,907.7 1125.33,897.3 1164.17,896.2 1203.03,897.4 1241.88,899 1280.72,905.3 1319.58,910.5 1358.42,917.2 1397.28,921.7 1436.12,927.2 1474.97,931.7 1513.82,938.4 1552.68,943 1591.53,949.7 1630.38,952.6" fill="none" stroke="#e6002a" stroke-width="3.67" stroke-linejoin="round" stroke-linecap="square" />
<polyline points="963,1135 1008.77,1020.9 1047.62,978 1086.47,940.8 1125.33,918.5 1164.17,905.2 1203.03,897.6 1241.88,890.8 1280.72,892.4 1319.58,894 1358.42,896.9 1397.28,899.6 1436.12,902.3 1474.97,906 1513.82,912 1552.68,915.4 1591.53,922.2 1630.38,923.8" fill="none" stroke="#7059f5" stroke-width="3.67" stroke-linejoin="round" stroke-linecap="square" />
<line x1="1008.77" y1="1012.9" x2="1008.77" y2="1028.9" stroke="#7059f5" stroke-width="3.67" stroke-linecap="butt"/>
<line x1="1047.62" y1="972" x2="1047.62" y2="984" stroke="#7059f5" stroke-width="3.67" stroke-linecap="butt"/>
<line x1="1125.33" y1="912.5" x2="1125.33" y2="924.5" stroke="#7059f5" stroke-width="3.67" stroke-linecap="butt"/>
<line x1="950.5" y1="1088" x2="950.5" y2="1092" stroke="#e6002a" stroke-width="3.67" stroke-linecap="butt"/>
<line x1="1125.33" y1="894.8" x2="1125.33" y2="899.8" stroke="#e6002a" stroke-width="3.67" stroke-linecap="butt"/>
<line x1="1125.33" y1="903.5" x2="1125.33" y2="908.5" stroke="#2dd10d" stroke-width="3.67" stroke-linecap="butt"/>
<line x1="1125.33" y1="948.6" x2="1125.33" y2="952.6" stroke="#ff661a" stroke-width="3.67" stroke-linecap="butt"/>
<line x1="1125.33" y1="1059.9" x2="1125.33" y2="1063.9" stroke="#2481e6" stroke-width="3.67" stroke-linecap="butt"/>
</g>
<rect x="891.3" y="627.3" width="739" height="488.6" fill="none" stroke="#000" stroke-width="1.96"/>
<line x1="950.5" y1="1115.9" x2="950.5" y2="1124.46" stroke="#000" stroke-width="1.96" stroke-linecap="butt"/>
<text x="950.5" y="1151.3" text-anchor="middle" font-size="24.44" font-family="'DejaVu Sans', 'Liberation Sans', sans-serif" >0.25</text>
<line x1="1047.62" y1="1115.9" x2="1047.62" y2="1124.46" stroke="#000" stroke-width="1.96" stroke-linecap="butt"/>
<text x="1047.62" y="1151.3" text-anchor="middle" font-size="24.44" font-family="'DejaVu Sans', 'Liberation Sans', sans-serif" >0.50</text>
<line x1="1144.75" y1="1115.9" x2="1144.75" y2="1124.46" stroke="#000" stroke-width="1.96" stroke-linecap="butt"/>
<text x="1144.75" y="1151.3" text-anchor="middle" font-size="24.44" font-family="'DejaVu Sans', 'Liberation Sans', sans-serif" >0.75</text>
<line x1="1241.88" y1="1115.9" x2="1241.88" y2="1124.46" stroke="#000" stroke-width="1.96" stroke-linecap="butt"/>
<text x="1241.88" y="1151.3" text-anchor="middle" font-size="24.44" font-family="'DejaVu Sans', 'Liberation Sans', sans-serif" >1.00</text>
<line x1="1339" y1="1115.9" x2="1339" y2="1124.46" stroke="#000" stroke-width="1.96" stroke-linecap="butt"/>
<text x="1339" y="1151.3" text-anchor="middle" font-size="24.44" font-family="'DejaVu Sans', 'Liberation Sans', sans-serif" >1.25</text>
<line x1="1436.12" y1="1115.9" x2="1436.12" y2="1124.46" stroke="#000" stroke-width="1.96" stroke-linecap="butt"/>
<text x="1436.12" y="1151.3" text-anchor="middle" font-size="24.44" font-family="'DejaVu Sans', 'Liberation Sans', sans-serif" >1.50</text>
<line x1="1533.25" y1="1115.9" x2="1533.25" y2="1124.46" stroke="#000" stroke-width="1.96" stroke-linecap="butt"/>
<text x="1533.25" y="1151.3" text-anchor="middle" font-size="24.44" font-family="'DejaVu Sans', 'Liberation Sans', sans-serif" >1.75</text>
<line x1="1630.38" y1="1115.9" x2="1630.38" y2="1124.46" stroke="#000" stroke-width="1.96" stroke-linecap="butt"/>
<text x="1630.38" y="1151.3" text-anchor="middle" font-size="24.44" font-family="'DejaVu Sans', 'Liberation Sans', sans-serif" >2.00</text>
<line x1="1630.3" y1="1116" x2="1638.86" y2="1116" stroke="#000" stroke-width="1.96" stroke-linecap="butt"/>
<text x="1647.42" y="1125.2" text-anchor="start" font-size="24.44" font-family="'DejaVu Sans', 'Liberation Sans', sans-serif" >0.645</text>
<line x1="1630.3" y1="1025.4" x2="1638.86" y2="1025.4" stroke="#000" stroke-width="1.96" stroke-linecap="butt"/>
<text x="1647.42" y="1034.6" text-anchor="start" font-size="24.44" font-family="'DejaVu Sans', 'Liberation Sans', sans-serif" >0.650</text>
<line x1="1630.3" y1="934.8" x2="1638.86" y2="934.8" stroke="#000" stroke-width="1.96" stroke-linecap="butt"/>
<text x="1647.42" y="944" text-anchor="start" font-size="24.44" font-family="'DejaVu Sans', 'Liberation Sans', sans-serif" >0.655</text>
<line x1="1630.3" y1="844.2" x2="1638.86" y2="844.2" stroke="#000" stroke-width="1.96" stroke-linecap="butt"/>
<text x="1647.42" y="853.4" text-anchor="start" font-size="24.44" font-family="'DejaVu Sans', 'Liberation Sans', sans-serif" >0.660</text>
<line x1="1630.3" y1="753.6" x2="1638.86" y2="753.6" stroke="#000" stroke-width="1.96" stroke-linecap="butt"/>
<text x="1647.42" y="762.8" text-anchor="start" font-size="24.44" font-family="'DejaVu Sans', 'Liberation Sans', sans-serif" >0.665</text>
<line x1="1630.3" y1="663" x2="1638.86" y2="663" stroke="#000" stroke-width="1.96" stroke-linecap="butt"/>
<text x="1647.42" y="672.2" text-anchor="start" font-size="24.44" font-family="'DejaVu Sans', 'Liberation Sans', sans-serif" >0.670</text>
<rect x="998.7" y="639.8" width="140.9" height="184.7" rx="4.9" ry="4.9" fill="#fff" fill-opacity="0.8" stroke="#cccccc" stroke-opacity="0.8" stroke-width="2.44"/>
<line x1="1008.8" y1="659" x2="1057" y2="659" stroke="#2481e6" stroke-width="3.67" stroke-linecap="square"/>
<line x1="1032.7" y1="646.8" x2="1032.7" y2="671.2" stroke="#2481e6" stroke-width="3.67" stroke-linecap="butt"/>
<text x="1075.6" y="668" text-anchor="start" font-size="24.44" font-family="'DejaVu Sans', 'Liberation Sans', sans-serif" >N=1</text>
<line x1="1008.8" y1="694.5" x2="1057" y2="694.5" stroke="#ff661a" stroke-width="3.67" stroke-linecap="square"/>
<line x1="1032.7" y1="682.3" x2="1032.7" y2="706.7" stroke="#ff661a" stroke-width="3.67" stroke-linecap="butt"/>
<text x="1075.6" y="703.5" text-anchor="start" font-size="24.44" font-family="'DejaVu Sans', 'Liberation Sans', sans-serif" >N=2</text>
<line x1="1008.8" y1="730" x2="1057" y2="730" stroke="#2dd10d" stroke-width="3.67" stroke-linecap="square"/>
<line x1="1032.7" y1="717.8" x2="1032.7" y2="742.2" stroke="#2dd10d" stroke-width="3.67" stroke-linecap="butt"/>
<text x="1075.6" y="739" text-anchor="start" font-size="24.44" font-family="'DejaVu Sans', 'Liberation Sans', sans-serif" >N=3</text>
<line x1="1008.8" y1="765.5" x2="1057" y2="765.5" stroke="#e6002a" stroke-width="3.67" stroke-linecap="square"/>
<line x1="1032.7" y1="753.3" x2="1032.7" y2="777.7" stroke="#e6002a" stroke-width="3.67" stroke-linecap="butt"/>
<text x="1075.6" y="774.5" text-anchor="start" font-size="24.44" font-family="'DejaVu Sans', 'Liberation Sans', sans-serif" >N=4</text>
<line x1="1008.8" y1="801" x2="1057" y2="801" stroke="#7059f5" stroke-width="3.67" stroke-linecap="square"/>
<line x1="1032.7" y1="788.8" x2="1032.7" y2="813.2" stroke="#7059f5" stroke-width="3.67" stroke-linecap="butt"/>
<text x="1075.6" y="810" text-anchor="start" font-size="24.44" font-family="'DejaVu Sans', 'Liberation Sans', sans-serif" >N=5</text>
<rect x="1246.7" y="637.2" width="369.8" height="170.8" fill="#fff"/>
<polyline points="1263.3,800 1347.1,657.6 1431.4,647.7 1515.4,645.5 1599.1,644.9" fill="none" stroke="#2481e6" stroke-width="3.67" stroke-linejoin="round" stroke-linecap="square" />
<circle cx="1263.3" cy="800" r="8.5" fill="#2481e6"/>
<circle cx="1347.1" cy="657.6" r="8.5" fill="#2481e6"/>
<circle cx="1431.4" cy="647.7" r="8.5" fill="#2481e6"/>
<circle cx="1515.4" cy="645.5" r="8.5" fill="#2481e6"/>
<circle cx="1599.1" cy="644.9" r="8.5" fill="#2481e6"/>
<rect x="1246.7" y="637.2" width="369.8" height="170.8" fill="none" stroke="#000" stroke-width="1.96"/>
<line x1="1263.3" y1="808" x2="1263.3" y2="816.56" stroke="#000" stroke-width="1.96" stroke-linecap="butt"/>
<text x="1263.3" y="843.4" text-anchor="middle" font-size="24.44" font-family="'DejaVu Sans', 'Liberation Sans', sans-serif" >1</text>
<line x1="1347.1" y1="808" x2="1347.1" y2="816.56" stroke="#000" stroke-width="1.96" stroke-linecap="butt"/>
<text x="1347.1" y="843.4" text-anchor="middle" font-size="24.44" font-family="'DejaVu Sans', 'Liberation Sans', sans-serif" >2</text>
<line x1="1431.4" y1="808" x2="1431.4" y2="816.56" stroke="#000" stroke-width="1.96" stroke-linecap="butt"/>
<text x="1431.4" y="843.4" text-anchor="middle" font-size="24.44" font-family="'DejaVu Sans', 'Liberation Sans', sans-serif" >3</text>
<line x1="1515.4" y1="808" x2="1515.4" y2="816.56" stroke="#000" stroke-width="1.96" stroke-linecap="butt"/>
<text x="1515.4" y="843.4" text-anchor="middle" font-size="24.44" font-family="'DejaVu Sans', 'Liberation Sans', sans-serif" >4</text>
<line x1="1599.1" y1="808" x2="1599.1" y2="816.56" stroke="#000" stroke-width="1.96" stroke-linecap="butt"/>
<text x="1599.1" y="843.4" text-anchor="middle" font-size="24.44" font-family="'DejaVu Sans', 'Liberation Sans', sans-serif" >5</text>
<line x1="1238.14" y1="666.5" x2="1246.7" y2="666.5" stroke="#000" stroke-width="1.96" stroke-linecap="butt"/>
<text x="1229.58" y="675.7" text-anchor="end" font-size="24.44" font-family="'DejaVu Sans', 'Liberation Sans', sans-serif" >0.656</text>
<line x1="1238.14" y1="706.2" x2="1246.7" y2="706.2" stroke="#000" stroke-width="1.96" stroke-linecap="butt"/>
<text x="1229.58" y="715.4" text-anchor="end" font-size="24.44" font-family="'DejaVu Sans', 'Liberation Sans', sans-serif" >0.654</text>
<line x1="1238.14" y1="745.8" x2="1246.7" y2="745.8" stroke="#000" stroke-width="1.96" stroke-linecap="butt"/>
<text x="1229.58" y="755" text-anchor="end" font-size="24.44" font-family="'DejaVu Sans', 'Liberation Sans', sans-serif" >0.652</text>
<line x1="1238.14" y1="785.5" x2="1246.7" y2="785.5" stroke="#000" stroke-width="1.96" stroke-linecap="butt"/>
<text x="1229.58" y="794.7" text-anchor="end" font-size="24.44" font-family="'DejaVu Sans', 'Liberation Sans', sans-serif" >0.650</text>
<text x="1250.53" y="739.3" text-anchor="start" font-size="26.88" font-family="'DejaVu Sans', 'Liberation Sans', sans-serif" >0.5</text>
<text x="1334.83" y="691.8" text-anchor="start" font-size="26.88" font-family="'DejaVu Sans', 'Liberation Sans', sans-serif" >0.5</text>
<text x="1418.53" y="684" text-anchor="start" font-size="26.88" font-family="'DejaVu Sans', 'Liberation Sans', sans-serif" >0.5</text>
<text x="1502.53" y="684" text-anchor="start" font-size="26.88" font-family="'DejaVu Sans', 'Liberation Sans', sans-serif" >0.8</text>
<text x="1574.05" y="684" text-anchor="start" font-size="26.88" font-family="'DejaVu Sans', 'Liberation Sans', sans-serif" >1.0</text>
<text x="1431.52" y="795" font-size="32" font-family="'Liberation Sans', 'DejaVu Sans', sans-serif" font-style="italic" transform="matrix(0.9078,0,0,1,132.03,0)">N</text>
<text x="909.19" y="683.1" font-size="45" font-family="'Liberation Sans', 'DejaVu Sans', sans-serif" stroke="#fff" stroke-width="0.5" transform="matrix(1.1081,0,0,1,-98.53,0)">c</text>
<text x="931.68" y="681.44" font-size="51" font-family="'Liberation Sans', 'DejaVu Sans', sans-serif" stroke="#fff" stroke-width="1.0">)</text>
<text x="1514.4" y="1089.1" font-family="'Liberation Sans', 'DejaVu Sans', sans-serif" font-style="italic" font-size="46" stroke="#fff" stroke-width="0.8">r<tspan font-size="32" dy="6.5" stroke="none">s</tspan><tspan font-size="52" dy="-6.5">=4</tspan></text>
<text x="1259.8" y="1211.7" text-anchor="middle" font-size="37.5" font-family="'Liberation Sans', 'DejaVu Sans', sans-serif" font-style="italic">λ</text>
<text transform="translate(1771.9,872) rotate(-90)" text-anchor="middle" font-family="'Liberation Sans', 'DejaVu Sans', sans-serif" font-style="italic" font-size="38">Z</text>
</svg>
</body></html>
